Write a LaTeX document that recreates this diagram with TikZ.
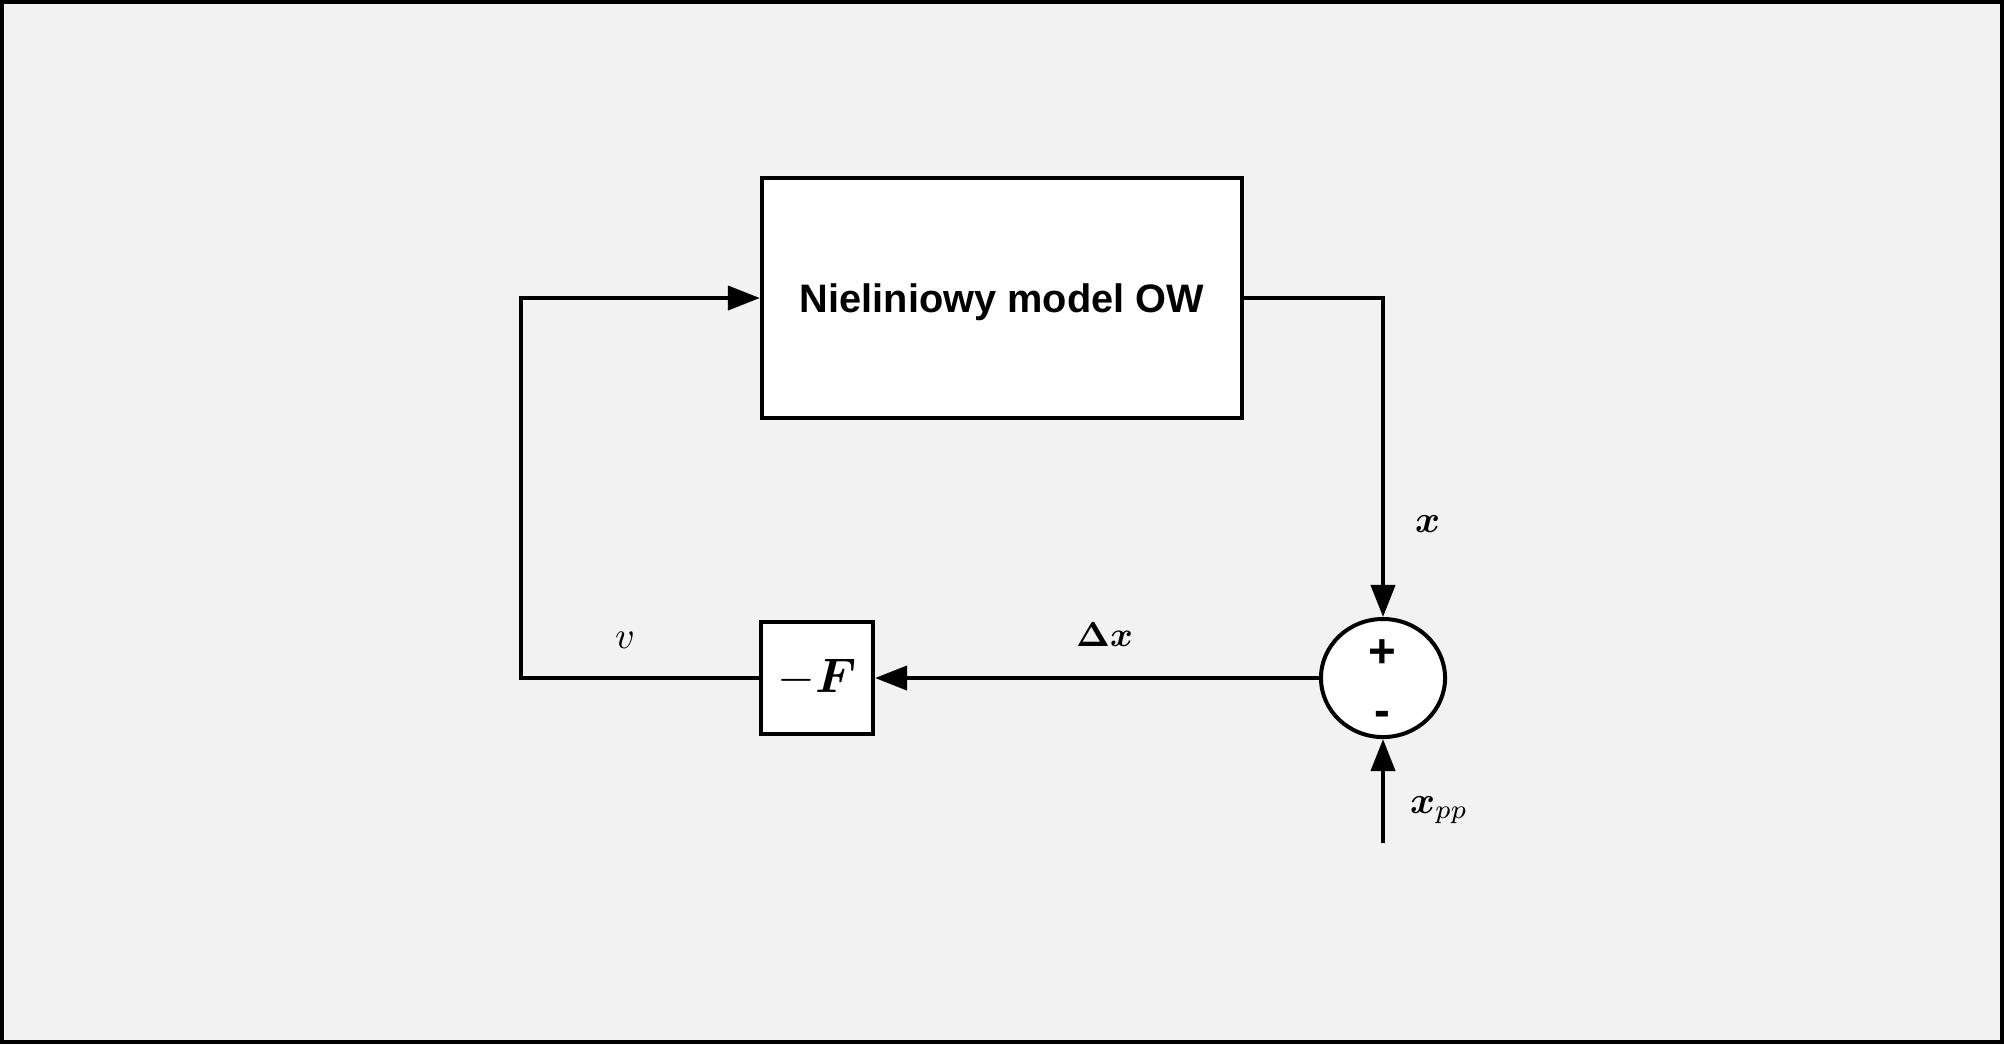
\RequirePackage{fix-cm}
\documentclass[tikz,border=0pt]{standalone}
\usepackage{fontspec}
\setmainfont{Liberation Sans}
\usepackage{bm}
\usetikzlibrary{arrows.meta,shapes.geometric}
\definecolor{bgc}{HTML}{F2F2F2}
\begin{document}
\begin{tikzpicture}[x=0.01cm,y=-0.01cm,
  line width=0.04cm,
  blk/.style={draw, fill=white, line width=0.04cm, inner sep=0},
  sig/.style={-{Triangle[length=0.32cm,width=0.24cm]}},
  lbl/.style={inner sep=0, anchor=base west, font=\fontsize{10.8}{13}\selectfont},
  pm/.style={inner sep=0, font=\bfseries\fontsize{13.5}{15}\selectfont},
]
\useasboundingbox (0,0) rectangle (2004,1044);
\fill[bgc] (0,0) rectangle (2004,1044);
\draw[line width=0.04cm] (2,2) rectangle (2002,1042);

\node[blk, minimum width=4.8cm, minimum height=2.4cm, text depth=0pt,
  font=\bfseries\fontsize{11.3}{13}\selectfont] (model) at (1002,298) {Nieliniowy model OW};
\node[blk, minimum width=1.12cm, minimum height=1.11cm,
  font=\fontsize{13.8}{16}\selectfont] (F) at (817,678) {$-\bm{F}$};
\node[draw, fill=white, ellipse, minimum width=1.24cm, minimum height=1.18cm, inner sep=0] (sum) at (1383,678) {};
\node[pm] (plus) at (1382,654) {+};
\node[pm] (minus) at (1382,719) {-};

\coordinate (lc) at (521,678);
\coordinate (pp) at (1383,843);

\draw[sig] (model.east) -| (sum.north);
\draw[sig] (sum.west) -- (F.east);
\draw[sig] (F.west) -- (lc) |- (model.west);
\draw[sig] (pp) -- (sum.south);

\node[lbl] (lx) at (1413,532) {$\bm{x}$};
\node[lbl, font=\fontsize{9.8}{12}\selectfont] (ldx) at (1074,646) {$\bm{\Delta x}$};
\node[lbl] (lv) at (613,648) {$v$};
\node[lbl] (lxpp) at (1408,813) {$\bm{x}_{pp}$};
\end{tikzpicture}
\end{document}
